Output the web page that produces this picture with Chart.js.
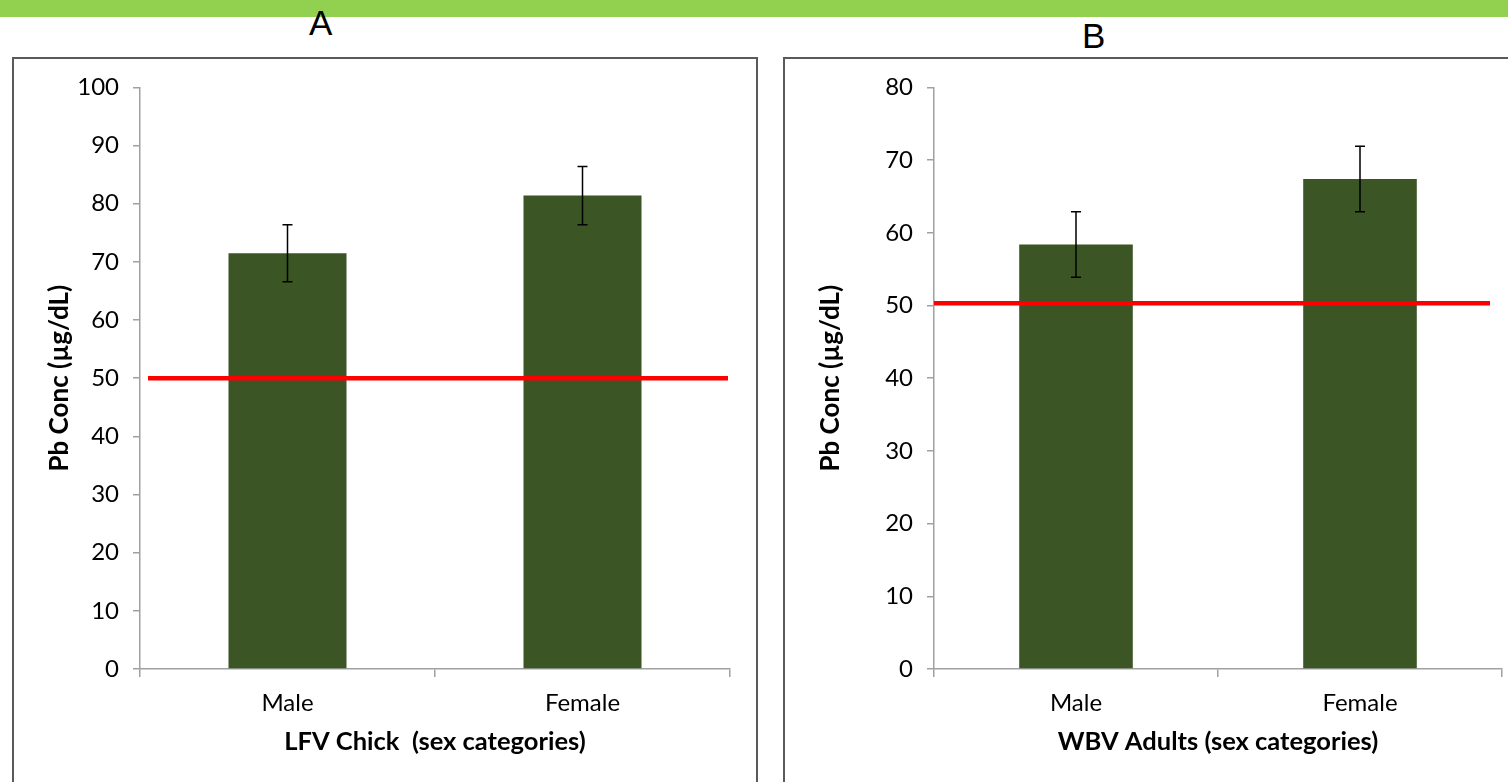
<!DOCTYPE html>
<html>
<head>
<meta charset="utf-8">
<script src="https://cdn.jsdelivr.net/npm/chart.js"></script>
<style>
  html, body { margin: 0; padding: 0; background: #fff; width: 1508px; height: 782px; overflow: hidden; }
  .stripe { position: absolute; left: 0; top: 0; width: 1508px; height: 17px; background: #92D050; z-index: 1; }
  .letter { position: absolute; font-family: "Liberation Sans", Arial, sans-serif; font-size: 35px; line-height: 35px; color: #000; z-index: 2; }
  .panel { position: absolute; border: 2px solid #5a5a5a; background: #fff; }
  .panel canvas { display: block; }
</style>
</head>
<body>
<div class="stripe"></div>
<div class="letter" style="left:309px; top:5px;">A</div>
<div class="letter" style="left:1082px; top:18px;">B</div>

<div class="panel" style="left:12px; top:57px; width:742px; height:740px;">
  <canvas id="chartA" width="742" height="723"></canvas>
</div>
<div class="panel" style="left:783px; top:57px; width:740px; height:740px;">
  <canvas id="chartB" width="723" height="723"></canvas>
</div>

<script>
// data
const categories = ['Male', 'Female'];

const chickMeans = [71.5, 81.4];
const chickErrors = [4.9, 5.0];
const chickThreshold = 50;
const chickMax = 100;

const adultMeans = [58.4, 67.4];
const adultErrors = [4.5, 4.5];
const adultThreshold = 50.3;
const adultMax = 80;

const FONT = 'Lato, "Open Sans", sans-serif';
const AXIS_GREY = '#a0a0a0';

// error bars (mean +/- error) drawn with the y scale
const errorBarsPlugin = {
  id: 'errorBars',
  afterDatasetsDraw(chart) {
    const ds = chart.data.datasets[0];
    const meta = chart.getDatasetMeta(0);
    const y = chart.scales.y;
    const ctx = chart.ctx;
    ctx.save();
    ctx.strokeStyle = '#000';
    ctx.lineWidth = 1.5;
    meta.data.forEach((bar, i) => {
      const top = y.getPixelForValue(ds.data[i] + ds.errors[i]);
      const bot = y.getPixelForValue(ds.data[i] - ds.errors[i]);
      ctx.beginPath();
      ctx.moveTo(bar.x, top); ctx.lineTo(bar.x, bot);
      ctx.moveTo(bar.x - 5, top); ctx.lineTo(bar.x + 5, top);
      ctx.moveTo(bar.x - 5, bot); ctx.lineTo(bar.x + 5, bot);
      ctx.stroke();
    });
    ctx.restore();
  }
};

// red reference line at the threshold value
const thresholdPlugin = {
  id: 'threshold',
  afterDatasetsDraw(chart, args, opts) {
    const area = chart.chartArea;
    const yPix = chart.scales.y.getPixelForValue(opts.value);
    const ctx = chart.ctx;
    ctx.save();
    ctx.strokeStyle = '#ff0000';
    ctx.lineWidth = 4.5;
    ctx.beginPath();
    ctx.moveTo(area.left + opts.insetLeft, yPix);
    ctx.lineTo(area.right - opts.insetRight, yPix);
    ctx.stroke();
    ctx.restore();
  }
};

function makeChart(id, means, errors, threshold, yMax, xTitle, yWidth, padRight, inset) {
  const ctx = document.getElementById(id).getContext('2d');
  return new Chart(ctx, {
    type: 'bar',
    data: {
      labels: categories,
      datasets: [{
        data: means,
        errors: errors,
        backgroundColor: '#3b5525',
        borderWidth: 0,
        barPercentage: 0.4,
        categoryPercentage: 1.0
      }]
    },
    options: {
      responsive: false,
      animation: false,
      events: [],
      layout: { padding: { top: 25, right: padRight, left: 0, bottom: 0 } },
      scales: {
        x: {
          afterFit: s => { s.height = 113; },
          grid: { display: true, drawOnChartArea: false, drawTicks: true, tickLength: 8, color: AXIS_GREY, lineWidth: 1.5, offset: true },
          border: { display: true, color: AXIS_GREY, width: 1.5 },
          ticks: { color: '#000', padding: 12, font: { family: FONT, size: 24 } },
          title: {
            display: true, text: xTitle, color: '#000',
            font: { family: FONT, size: 25.5, weight: 'bold' },
            padding: { top: 0, bottom: 25 }
          }
        },
        y: {
          min: 0, max: yMax,
          afterFit: s => { s.width = yWidth; },
          ticks: { stepSize: 10, color: '#000', padding: 14, font: { family: FONT, size: 24 } },
          grid: { display: true, drawOnChartArea: false, drawTicks: true, tickLength: 7, color: AXIS_GREY, lineWidth: 1.5 },
          border: { display: true, color: AXIS_GREY, width: 1.5 },
          title: {
            display: true, text: 'Pb Conc (µg/dL)', color: '#000',
            font: { family: FONT, size: 26, weight: 'bold' },
            padding: { top: 30, bottom: 0 }
          }
        }
      },
      plugins: {
        legend: { display: false },
        tooltip: { enabled: false },
        threshold: { value: threshold, insetLeft: inset[0], insetRight: inset[1] }
      }
    },
    plugins: [thresholdPlugin, errorBarsPlugin]
  });
}

makeChart('chartA', chickMeans, chickErrors, chickThreshold, chickMax,
  'LFV Chick  (sex categories)', 126, 26, [8, 2]);
makeChart('chartB', adultMeans, adultErrors, adultThreshold, adultMax,
  'WBV Adults (sex categories)', 149, 6, [0, 12]);
</script>
</body>
</html>
